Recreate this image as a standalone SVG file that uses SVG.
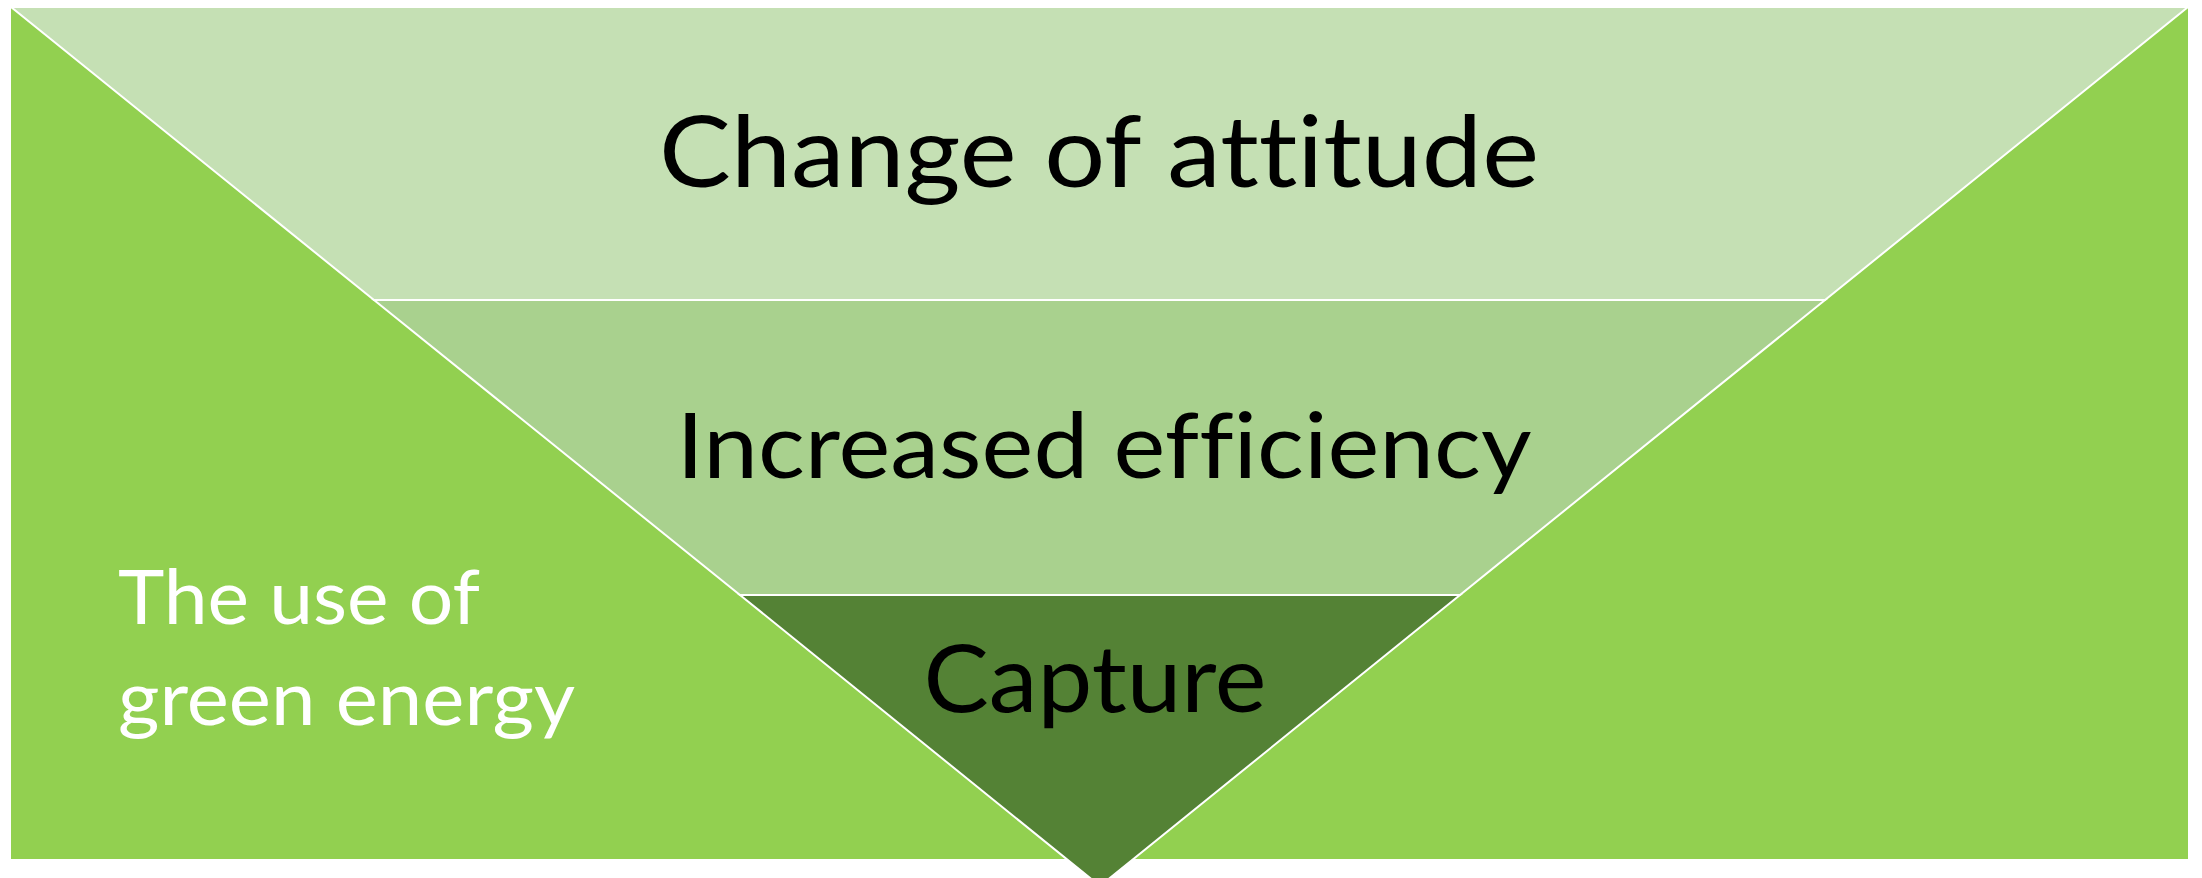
<svg xmlns="http://www.w3.org/2000/svg" width="2202" height="878" viewBox="0 0 2202 878">
  <style>
    .side { fill: #92D050; }
    .band { stroke: #FFFFFF; stroke-width: 2; stroke-linejoin: miter; }
    text { font-variant-ligatures: none; font-feature-settings: "liga" 0, "clig" 0, "dlig" 0; }
    .lbl { font-family: Lato, "Open Sans", "Liberation Sans", sans-serif; fill: #000000; text-anchor: middle; }
    .side-lbl { font-family: Lato, "Open Sans", "Liberation Sans", sans-serif; fill: #FFFFFF; font-size: 76px; }
  </style>
  <rect x="0" y="0" width="2202" height="878" fill="#FFFFFF"/>

  <g id="side-left">
    <polygon class="side" points="11,7 11,859 1067,859"/>
  </g>
  <g id="side-right">
    <polygon class="side" points="2188,7 2188,859 1133,859"/>
  </g>

  <g id="band-change">
    <polygon class="band" fill="#C5E0B4" points="11,7 2188,7 1825,300 374,300"/>
    <text class="lbl" x="1099" y="187" font-size="98" textLength="880" lengthAdjust="spacingAndGlyphs">Change of attitude</text>
  </g>
  <g id="band-efficiency">
    <polygon class="band" fill="#A9D18E" points="374,300 1825,300 1460,595 740,595"/>
    <text class="lbl" x="1104" y="478" font-size="92" textLength="855" lengthAdjust="spacingAndGlyphs">Increased efficiency</text>
  </g>
  <g id="band-capture">
    <polygon class="band" fill="#548235" points="740,595 1460,595 1100,886"/>
    <text class="lbl" x="1095" y="712" font-size="94" textLength="343" lengthAdjust="spacingAndGlyphs">Capture</text>
  </g>

  <g id="label-green-energy">
    <text class="side-lbl" x="118" y="624" textLength="362" lengthAdjust="spacingAndGlyphs">The use of</text>
    <text class="side-lbl" x="118" y="725" textLength="457" lengthAdjust="spacingAndGlyphs">green energy</text>
  </g>

  <g id="connectors"/>
</svg>
